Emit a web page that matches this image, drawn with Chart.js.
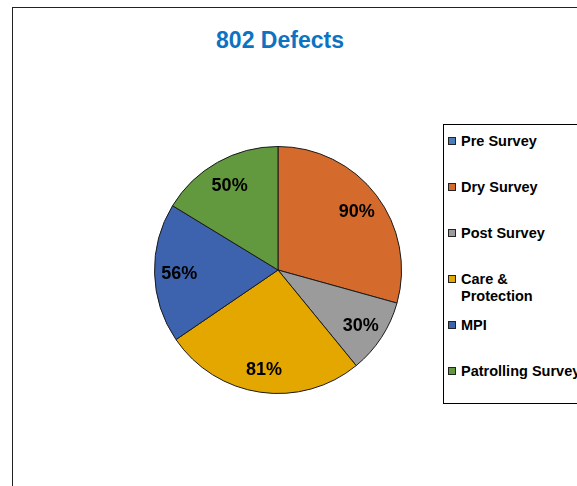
<!DOCTYPE html>
<html lang="en">
<head>
  <meta charset="UTF-8" />
  <title>802 Defects</title>
  <script src="https://cdn.jsdelivr.net/npm/chart.js"></script>
  <style>
    body {
      margin: 0;
      width: 577px;
      height: 486px;
      overflow: hidden;
      background: #ffffff;
      font-family: 'Liberation Sans', Arial, sans-serif;
    }

    .frame {
      position: absolute;
      left: 12px;
      top: 7px;
      width: 620px;
      height: 520px;
      border: 1px solid #222;
    }

    h1 {
      position: absolute;
      left: 0;
      width: 560px;
      top: 27px;
      margin: 0;
      text-align: center;
      font-size: 23px;
      font-weight: bold;
      color: #0c72c2;
    }

    .pie-box {
      position: absolute;
      left: 148px;
      top: 140px;
      width: 260px;
      height: 260px;
    }

    .legend {
      position: absolute;
      left: 443px;
      top: 124px;
      width: 160px;
      height: 278px;
      border: 1px solid #000;
      background: #fff;
    }

    .legend-item {
      position: absolute;
      left: 4px;
      width: 118px;
      font-size: 14.5px;
      font-weight: bold;
      line-height: 17px;
      color: #000;
      padding-left: 13px;
      white-space: nowrap;
    }

    .legend-item.wrap {
      white-space: normal;
      width: 80px;
    }

    .legend-item .swatch {
      position: absolute;
      left: 0;
      top: 4px;
      width: 6px;
      height: 6px;
      border: 1px solid #222;
    }
  </style>
</head>
<body>
  <div class="frame"></div>
  <h1>802 Defects</h1>
  <div class="pie-box">
    <canvas id="pie"></canvas>
  </div>
  <div class="legend" id="legend"></div>

  <script>
    const categories = ['Pre Survey', 'Dry Survey', 'Post Survey', 'Care & Protection', 'MPI', 'Patrolling Survey'];
    const percents = [0, 90, 30, 81, 56, 50];
    const colors = ['#4a7ebb', '#d46a2b', '#9b9b9b', '#e3a700', '#3d63ae', '#62983e'];

    // percent labels drawn inside each slice
    const sliceLabels = {
      id: 'sliceLabels',
      afterDatasetsDraw(chart) {
        const ctx = chart.ctx;
        const meta = chart.getDatasetMeta(0);
        ctx.save();
        ctx.font = 'bold 18px "Liberation Sans", Arial, sans-serif';
        ctx.fillStyle = '#000';
        ctx.textAlign = 'center';
        ctx.textBaseline = 'middle';
        meta.data.forEach((arc, i) => {
          const v = chart.data.datasets[0].data[i];
          if (!v) return;
          const p = arc.getProps(['x', 'y', 'startAngle', 'endAngle', 'outerRadius']);
          const mid = (p.startAngle + p.endAngle) / 2;
          const r = p.outerRadius * 0.8;
          ctx.fillText(v + '%', p.x + Math.cos(mid) * r, p.y + Math.sin(mid) * r + 2);
        });
        ctx.restore();
      }
    };

    new Chart(document.getElementById('pie'), {
      type: 'pie',
      data: {
        labels: categories,
        datasets: [{
          data: percents,
          backgroundColor: colors,
          borderColor: '#1a1a1a',
          borderWidth: 1
        }]
      },
      options: {
        responsive: true,
        maintainAspectRatio: false,
        animation: false,
        layout: { padding: 6 },
        plugins: {
          legend: { display: false },
          tooltip: { enabled: false }
        }
      },
      plugins: [sliceLabels]
    });

    const legend = document.getElementById('legend');
    categories.forEach((name, i) => {
      const item = document.createElement('div');
      item.className = 'legend-item' + (name.length > 12 && name.includes('&') ? ' wrap' : '');
      item.style.top = (8 + i * 46) + 'px';
      item.innerHTML = '<span class="swatch" style="background:' + colors[i] + '"></span>' +
        name.replace('&', '&amp;');
      legend.appendChild(item);
    });
  </script>
</body>
</html>
